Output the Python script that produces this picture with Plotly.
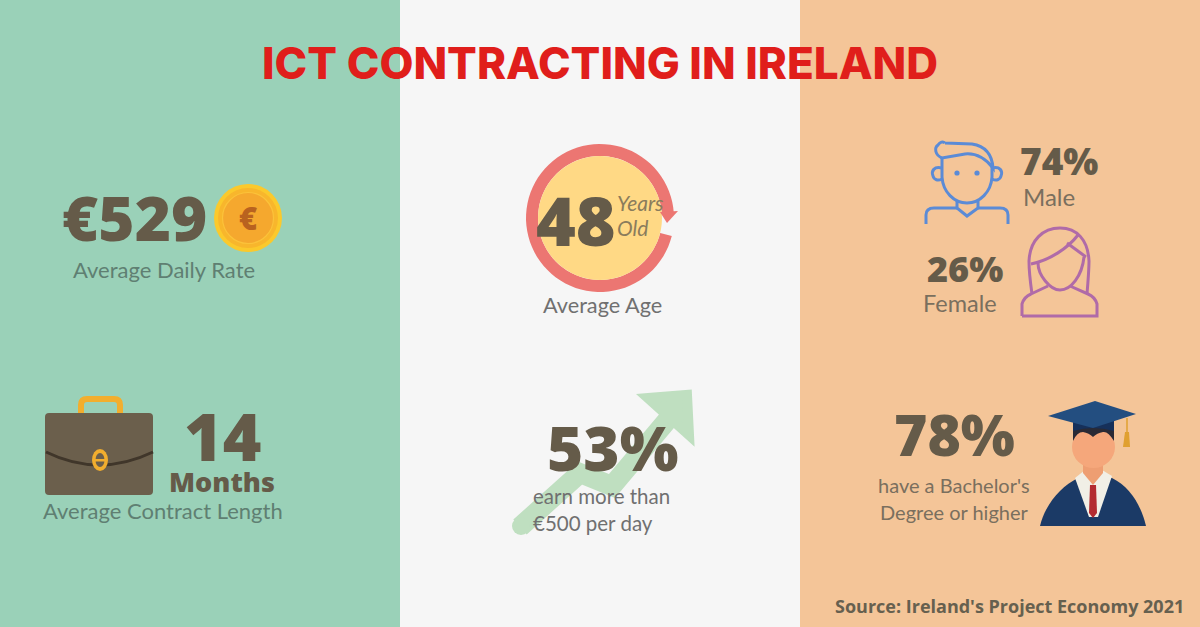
import numpy as np
import plotly.graph_objects as go

# ---- chart content ----
title_text = "ICT CONTRACTING IN IRELAND"
daily_rate = "€529"
daily_rate_label = "Average Daily Rate"
contract_months = "14"
contract_unit = "Months"
contract_label = "Average Contract Length"
average_age = "48"
age_units = ["Years", "Old"]
age_label = "Average Age"
share_over_500 = "53%"
share_over_500_label = ["earn more than", "€500 per day"]
male_share = "74%"
female_share = "26%"
degree_share = "78%"
degree_label = ["have a Bachelor's", "Degree or higher"]
source_text = "Source: Ireland's Project Economy 2021"

GREEN, PALE, ORANGE = "#9AD1B8", "#F6F6F6", "#F4C598"
DARK = "#655B49"
shapes, notes = [], []


def rect(x0, y0, x1, y1, color):
    shapes.append(dict(type="rect", x0=x0, y0=y0, x1=x1, y1=y1, fillcolor=color, line_width=0))


def circle(cx, cy, r, fill="rgba(0,0,0,0)", line=None, w=0, ry=None):
    ry = r if ry is None else ry
    shapes.append(dict(type="circle", x0=cx - r, x1=cx + r, y0=cy - ry, y1=cy + ry,
                       fillcolor=fill, line=dict(color=line or fill, width=w)))


def path(d, fill=None, line=None, w=0):
    shapes.append(dict(type="path", path=d, fillcolor=fill or "rgba(0,0,0,0)",
                       line=dict(color=line or "rgba(0,0,0,0)", width=w)))


def poly(pts, fill):
    path("M " + " L ".join(f"{x:.1f} {y:.1f}" for x, y in pts) + " Z", fill=fill)


def text(x, y, s, size, color, family="Lato", weight=400, anchor="center", style="normal"):
    notes.append(dict(x=x, y=y, text=s, xref="x", yref="y", showarrow=False, xanchor=anchor,
                      yanchor="middle", borderpad=0, borderwidth=0,
                      font=dict(family=family, size=size, color=color, weight=weight, style=style)))


def big(x, y, s, size):
    text(x, y, s, size, DARK, family="Open Sans", weight=800)


# panels
rect(0, 0, 400, 627, GREEN)
rect(400, 0, 800, 627, PALE)
rect(800, 0, 1200, 627, ORANGE)

# coin
circle(248, 218, 34, "#FBC92C")
circle(248, 218, 30, "#F8B62C")
circle(248, 218, 25.5, "#F5A82E", "#FBC23A", 1.2)

# briefcase
path("M 81 414 L 81 405 Q 81 399 87 399 L 114 399 Q 120 399 120 405 L 120 414",
     line="#F2AE2E", w=6)
path("M 49 413 L 149 413 Q 153 413 153 417 L 153 491 Q 153 495 149 495 L 49 495 "
     "Q 45 495 45 491 L 45 417 Q 45 413 49 413 Z", fill="#6B5F4C")
path("M 46 452 Q 99 478 153 452", line="#40362A", w=3)
circle(100, 460, 8, "#F2AE2E", ry=11)
circle(100, 460, 4.5, "#6B5F4C", ry=7)
rect(95, 459, 105, 461.5, "#F2AE2E")

# age ring
t = np.radians(np.linspace(14, 356, 80))
outer = [(600 + 74 * np.cos(a), 218 + 74 * np.sin(a)) for a in t]
inner = [(600 + 62 * np.cos(a), 218 + 62 * np.sin(a)) for a in t[::-1]]
poly(outer + inner, "#EC7672")
circle(600, 218, 62, "#FFD985")
poly([(678, 211), (667, 223), (660, 212)], "#EC7672")

# rising arrow
path("M 520 527 L 580 473 L 612 486 L 670 417", line="#BFDFC0", w=20)
circle(521, 526, 9, "#BFDFC0")
path("M 648 398 L 687 395 L 689 435 Z", fill="#BFDFC0", line="#BFDFC0", w=10)

# male icon
BLUE = "#5B8BD6"
for d in [
    "M 945 143 L 972 144 C 985 146 992 154 993 168 C 985 158 975 153 965 154 L 942 158 "
    "C 935 155 934 148 938 145 C 940 142 943 141 945 143",
    "M 942 158 L 942 177 C 943 192 954 203 967 203 C 980 203 991 192 992 177 L 992 163",
    "M 942 168 C 934 166 931 171 933 176 C 934 180 938 181 942 179",
    "M 992 168 C 1000 166 1003 171 1001 176 C 1000 180 996 181 992 179",
    "M 957 201 L 957 208 L 967 216 L 978 208 L 978 201",
    "M 926 224 L 926 215 Q 926 208 934 208 L 957 208",
    "M 978 208 L 1000 208 Q 1008 208 1008 215 L 1008 224",
]:
    path(d, line=BLUE, w=3)
circle(957, 173, 2.6, BLUE)
circle(977, 173, 2.6, BLUE)

# female icon
PURPLE = "#B06BA8"
for d in [
    "M 1022 316 L 1097 316 L 1097 304 Q 1095 297 1088 294 L 1070 286 "
    "M 1022 316 L 1022 304 Q 1024 297 1031 294 L 1048 286",
    "M 1032 294 C 1030 280 1029 270 1029 261 C 1030 240 1043 228 1060 228 "
    "C 1077 228 1088 240 1089 261 C 1089 270 1088 282 1087 294",
    "M 1038 263 C 1038 275 1050 290 1060 290 C 1071 290 1082 276 1084 257",
    "M 1031 264 C 1050 260 1068 248 1078 235",
    "M 1067 243 L 1086 257",
]:
    path(d, line=PURPLE, w=3)

# graduate
path("M 1040 526 C 1045 505 1060 487 1078 478 L 1112 478 C 1130 487 1141 505 1146 526 Z", fill="#1B3A66")
poly([(1075, 478), (1085, 470), (1102, 470), (1112, 476), (1098, 517), (1089, 517)], "#F1EFE6")
poly([(1090, 485), (1096, 485), (1097, 513), (1093, 518), (1089, 513)], "#B32B30")
poly([(1083, 458), (1103, 458), (1103, 473), (1093, 485), (1083, 473)], "#EE9E72")
circle(1093.5, 447, 21.5, "#F5A77B", ry=21)
path("M 1073 441 L 1073 420 L 1114 420 L 1114 441 Q 1108 431 1103 432 Q 1097 433 1093 437 "
     "Q 1089 433 1083 432 Q 1077 432 1073 441 Z", fill="#2A2A35")
path("M 1073 431 L 1073 415 L 1114 415 L 1114 431 Q 1093 425 1073 431 Z", fill="#16305A")
poly([(1048, 416), (1095, 401), (1136, 414), (1093, 428)], "#234E80")
path("M 1127 418 L 1127 433", line="#E0A030", w=1.5)
poly([(1125, 432), (1129, 432), (1130, 447), (1123, 447)], "#E0A030")

# text
text(600, 62.5, title_text, 44, "#E01E1B", family="Inter", weight=800)

big(134, 217, daily_rate, 62)
text(248, 218, "€", 31, "#B9621F", family="Open Sans", weight=800)
text(164, 269, daily_rate_label, 22, "#5F7F72")

big(222, 435, contract_months, 66)
big(222, 481, contract_unit, 27)
text(162.5, 510, contract_label, 22, "#5F7F72")

big(576, 219, average_age, 68)
text(617, 202, age_units[0], 21, "#8A7C5C", anchor="left", style="italic")
text(617, 227, age_units[1], 21, "#8A7C5C", anchor="left", style="italic")
text(602, 305, age_label, 21.7, "#707070")

big(612, 447, share_over_500, 62)
text(533, 496, share_over_500_label[0], 20.5, "#707070", anchor="left")
text(533, 523, share_over_500_label[1], 20.5, "#707070", anchor="left")

big(1059, 160, male_share, 37)
text(1049, 196, "Male", 24, "#7A6F5E")
big(965, 268, female_share, 36)
text(960, 303, "Female", 23.5, "#7A6F5E")

big(954, 434, degree_share, 57)
text(954, 485, degree_label[0], 20, "#7A6F5E")
text(954, 512, degree_label[1], 20, "#7A6F5E")

text(1184, 606, source_text, 18, "#66604F", family="Open Sans", weight=700, anchor="right")

axis = dict(visible=False, fixedrange=True, showgrid=False, zeroline=False)
fig = go.Figure()
fig.update_layout(
    width=1200, height=627, margin=dict(l=0, r=0, t=0, b=0),
    paper_bgcolor=PALE, plot_bgcolor=PALE, showlegend=False,
    xaxis=dict(range=[0, 1200], **axis),
    yaxis=dict(range=[627, 0], **axis),
    shapes=shapes, annotations=notes,
)
fig.write_html("out.html", config=dict(displayModeBar=False),
               post_script="document.body.style.margin='0';document.body.style.overflow='hidden';")
